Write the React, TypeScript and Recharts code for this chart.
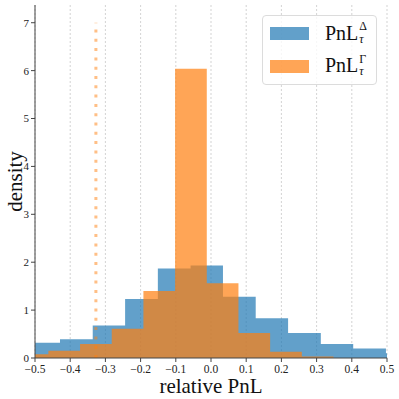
import { Area, AreaChart, CartesianGrid, Legend, ReferenceLine, XAxis, YAxis } from 'recharts';

// Two overlaid density histograms (alpha 0.7) drawn as step areas on a numeric x axis.

const BLUE_EDGES = [-0.522, -0.429, -0.336, -0.244, -0.151, -0.058, 0.034, 0.127, 0.219, 0.312, 0.404, 0.497, 0.589];
const BLUE_VALUES = [0.32, 0.39, 0.68, 1.23, 1.87, 1.93, 1.28, 0.83, 0.52, 0.29, 0.2, 0.1];

const ORANGE_EDGES = [-0.552, -0.462, -0.372, -0.282, -0.192, -0.102, -0.012, 0.078, 0.168, 0.258, 0.348];
const ORANGE_VALUES = [0.08, 0.15, 0.29, 0.61, 1.4, 6.04, 1.56, 0.52, 0.13, 0.03];

const MARKER_X = -0.327;
const MARKER_TOP = 7;

const X_TICKS = [-0.5, -0.4, -0.3, -0.2, -0.1, 0, 0.1, 0.2, 0.3, 0.4, 0.5];
const Y_TICKS = [0, 1, 2, 3, 4, 5, 6, 7];

const BLUE = '#1f77b4';
const ORANGE = '#ff7f0e';
const FONT = '"Liberation Serif", "DejaVu Serif", serif';

function binValue(edges: number[], values: number[], x: number) {
  for (let i = 0; i < values.length; i++) {
    if (x >= edges[i] && x < edges[i + 1]) return values[i];
  }
  return 0;
}

const allEdges = Array.from(new Set([...BLUE_EDGES, ...ORANGE_EDGES])).sort((a, b) => a - b);
const data = allEdges.map((x) => ({
  x,
  blue: binValue(BLUE_EDGES, BLUE_VALUES, x),
  orange: binValue(ORANGE_EDGES, ORANGE_VALUES, x),
}));

const fmtX = (v: number) => (v < 0 ? '\u2212' : '') + Math.abs(v).toFixed(1);

function PnlLabel({ sup }: { sup: string }) {
  return (
    <span style={{ display: 'inline-flex', alignItems: 'center', fontSize: 20, lineHeight: 1 }}>
      <span>PnL</span>
      <span style={{ display: 'inline-flex', flexDirection: 'column', fontSize: 12, lineHeight: 1.05, marginLeft: 1 }}>
        <span>{sup}</span>
        <span style={{ fontStyle: 'italic' }}>τ</span>
      </span>
    </span>
  );
}

function LegendBox() {
  const rows = [
    { color: BLUE, sup: 'Δ' },
    { color: ORANGE, sup: 'Γ' },
  ];
  return (
    <div
      style={{
        position: 'relative',
        width: 115,
        height: 70,
        boxSizing: 'border-box',
        border: '1px solid #dcdcdc',
        borderRadius: 4,
        background: 'rgba(255,255,255,0.8)',
        fontFamily: FONT,
        color: '#111',
      }}
    >
      {rows.map((r, i) => (
        <div key={r.sup} style={{ position: 'absolute', left: 0, top: 4 + i * 32.5, height: 28, width: '100%' }}>
          <div
            style={{ position: 'absolute', left: 7, top: 7, width: 39, height: 13, background: r.color, opacity: 0.7 }}
          />
          <div style={{ position: 'absolute', left: 62, top: 0 }}>
            <PnlLabel sup={r.sup} />
          </div>
        </div>
      ))}
    </div>
  );
}

export default function App() {
  return (
    <div style={{ position: 'absolute', left: 0, top: 0, width: 399, height: 399, background: '#fff', fontFamily: FONT }}>
      <AreaChart width={399} height={399} data={data} margin={{ top: 5, right: 12, bottom: 0, left: 0 }}>
        <CartesianGrid vertical horizontal={false} stroke="#c8c8c8" strokeDasharray="2 2" strokeWidth={0.8} />
        <XAxis
          dataKey="x"
          type="number"
          domain={[-0.5, 0.5]}
          ticks={X_TICKS}
          allowDataOverflow
          interval={0}
          tickFormatter={fmtX}
          height={41}
          tickSize={4}
          tickMargin={2.5}
          tick={{ fill: '#222', fontSize: 11.5, fontFamily: FONT }}
          tickLine={{ stroke: '#444' }}
          axisLine={{ stroke: '#444' }}
          label={{ value: 'relative PnL', position: 'insideBottom', offset: 6, fill: '#111', fontSize: 21, fontFamily: FONT }}
        />
        <XAxis
          xAxisId="top"
          orientation="top"
          type="number"
          domain={[-0.5, 0.5]}
          height={0}
          tick={false}
          tickLine={false}
          axisLine={{ stroke: '#444' }}
        />
        <YAxis
          type="number"
          domain={[0, 7.37]}
          ticks={Y_TICKS}
          allowDataOverflow
          interval={0}
          width={35}
          tickSize={4}
          tickMargin={2}
          tick={{ fill: '#222', fontSize: 11, fontFamily: FONT }}
          tickLine={{ stroke: '#444' }}
          axisLine={{ stroke: '#444' }}
          label={{
            value: 'density',
            angle: -90,
            position: 'insideLeft',
            offset: 15,
            fill: '#111',
            fontSize: 21,
            fontFamily: FONT,
            style: { textAnchor: 'middle' },
          }}
        />
        <YAxis
          yAxisId="right"
          orientation="right"
          type="number"
          domain={[0, 7.37]}
          width={0}
          tick={false}
          tickLine={false}
          axisLine={{ stroke: '#444' }}
        />
        <Area
          type="stepAfter"
          dataKey="blue"
          name="blue"
          fill={BLUE}
          fillOpacity={0.7}
          stroke="none"
          baseValue={0}
          isAnimationActive={false}
        />
        <Area
          type="stepAfter"
          dataKey="orange"
          name="orange"
          fill={ORANGE}
          fillOpacity={0.7}
          stroke="none"
          baseValue={0}
          isAnimationActive={false}
        />
        <ReferenceLine
          segment={[
            { x: MARKER_X, y: 0 },
            { x: MARKER_X, y: MARKER_TOP },
          ]}
          stroke={ORANGE}
          strokeOpacity={0.5}
          strokeWidth={3}
          strokeDasharray="3 6.3"
        />
        <Legend
          layout="horizontal"
          verticalAlign="middle"
          align="center"
          content={() => <LegendBox />}
          wrapperStyle={{ position: 'absolute', left: 262, top: 15, width: 115, height: 70 }}
        />
      </AreaChart>
    </div>
  );
}
